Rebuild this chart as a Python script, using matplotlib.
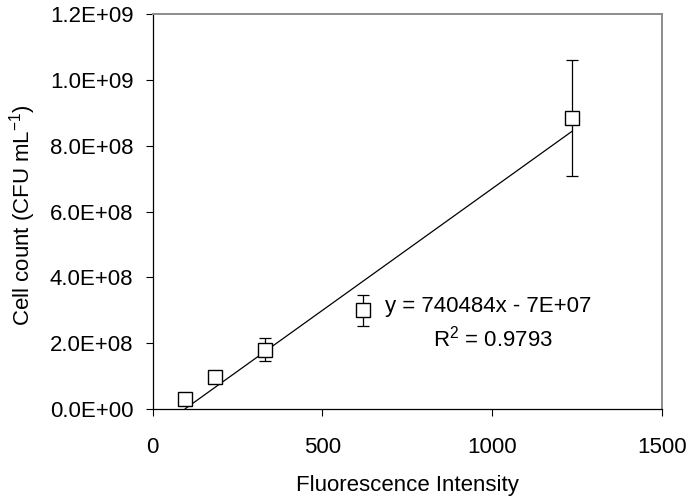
import numpy as np
import matplotlib
matplotlib.use("Agg")
import matplotlib.pyplot as plt
from matplotlib.ticker import FixedLocator, FuncFormatter

plt.rcParams['font.family'] = ['Liberation Sans', 'DejaVu Sans']
plt.rcParams['mathtext.fontset'] = 'custom'
plt.rcParams['mathtext.rm'] = 'Liberation Sans'
plt.rcParams['mathtext.it'] = 'Liberation Sans:italic'
plt.rcParams['mathtext.bf'] = 'Liberation Sans:bold'

# Calibration data: fluorescence intensity vs. plate counts
intensity = [96, 184, 332, 619, 1236]
cell_count = [2.9e7, 9.8e7, 1.8e8, 3.0e8, 8.85e8]
count_err = [0.0, 0.0, 3.5e7, 4.6e7, 1.76e8]

# Linear fit reported on the chart
slope = 740484
intercept = -7e7
r_squared = 0.9793

x_ticks = [0, 500, 1000, 1500]
y_ticks = [0, 2e8, 4e8, 6e8, 8e8, 1.0e9, 1.2e9]

FS = 16

fig = plt.figure(figsize=(6.91, 4.97), dpi=100)
ax = fig.add_axes([0.221, 0.177, 0.737, 0.794])

# Trend line across the range of the data
xs = np.array([min(intensity), max(intensity)])
ax.plot(xs, slope * xs + intercept, color='black', lw=0.9, zorder=2)

ax.errorbar(intensity, cell_count, yerr=count_err, fmt='none',
            ecolor='black', elinewidth=0.9, capsize=4, capthick=0.9, zorder=3)
ax.plot(intensity, cell_count, linestyle='none', marker='s', markersize=9.5,
        markerfacecolor='white', markeredgecolor='black', markeredgewidth=1.0,
        zorder=4)

ax.set_xlim(0, 1500)
ax.set_ylim(0, 1.2e9)
ax.xaxis.set_major_locator(FixedLocator(x_ticks))
ax.yaxis.set_major_locator(FixedLocator(y_ticks))


def sci_label(v, pos):
    if v == 0:
        return '0.0E+00'
    exp = int(np.floor(np.log10(abs(v))))
    mant = v / 10 ** exp
    return f'{mant:.1f}E+{exp:02d}'


ax.yaxis.set_major_formatter(FuncFormatter(sci_label))
ax.tick_params(axis='x', direction='out', length=5, width=0.8,
               labelsize=FS, colors='black', pad=15)
ax.tick_params(axis='y', direction='out', length=5, width=0.8,
               labelsize=FS, colors='black', pad=9)

for side in ('left', 'bottom'):
    ax.spines[side].set_color('black')
    ax.spines[side].set_linewidth(0.9)
for side in ('top', 'right'):
    ax.spines[side].set_color('#8c8c8c')
    ax.spines[side].set_linewidth(1.4)

ax.set_xlabel('Fluorescence Intensity', fontsize=FS)
ax.xaxis.set_label_coords(0.5, -0.168)
ax.set_ylabel('Cell count (CFU mL$^{-1}$)', fontsize=FS)
ax.yaxis.set_label_coords(-0.226, 0.492)

ax.text(0.456, 0.2465, f'y = {slope}x - 7E+07', transform=ax.transAxes,
        fontsize=FS, ha='left', va='baseline')
ax.text(0.550, 0.158, f'R$^2$ = {r_squared}', transform=ax.transAxes,
        fontsize=FS, ha='left', va='baseline')

fig.savefig('out.png', dpi=100, facecolor='white')
